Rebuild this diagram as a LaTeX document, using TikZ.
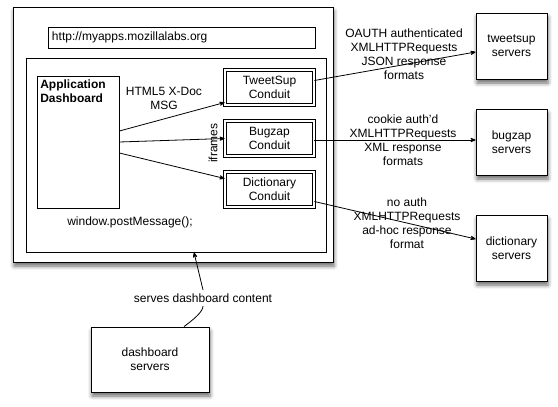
\documentclass[tikz,border=0pt]{standalone}
\usepackage{fontspec}
\setmainfont{Liberation Sans}
\usetikzlibrary{arrows,shadows.blur}

\begin{document}
\begin{tikzpicture}[->,>=stealth',x=1pt,y=-1pt,line width=0.8pt,
                    font=\fontsize{12}{14}\selectfont]

  \tikzstyle{every node}=[align=center]
  \tikzstyle{plain}=[rectangle,draw]
  \tikzstyle{frame}=[rectangle,draw,fill=white,
                     blur shadow={shadow xshift=1pt,shadow yshift=-4pt,shadow blur radius=4pt,shadow opacity=60}]
  \tikzstyle{conduit}=[rectangle,draw,double,double distance=2pt,
                       minimum width=89pt,minimum height=35pt]
  \tikzstyle{server}=[frame,minimum width=71pt,minimum height=66pt]

  \useasboundingbox (0,0) rectangle (558,407);

  \node[frame,minimum width=320pt,minimum height=255pt] (page) at (173,134.5) {};
  \node[plain,minimum width=267pt,minimum height=21pt,text width=259pt,align=left] (url) at (181.5,37.5) {http://myapps.mozillalabs.org};
  \node[plain,minimum width=300pt,minimum height=194pt] (iframe) at (176,155) {};
  \node[plain,minimum width=82pt,minimum height=132pt] (dash) at (78,142) {};
  \node[anchor=north west,align=left,font=\fontsize{12}{14}\selectfont\bfseries] (dashtext) at (dash.north west) {Application\\Dashboard};

  \node[conduit] (tc) at (269.5,87.5)  {TweetSup\\Conduit};
  \node[conduit] (bc) at (269.5,138.5) {Bugzap\\Conduit};
  \node[conduit] (dc) at (269.5,189.5) {Dictionary\\Conduit};

  \node[server] (ts) at (511.5,46)  {tweetsup\\servers};
  \node[server] (bs) at (511.5,142) {bugzap\\servers};
  \node[server] (ds) at (511.5,248) {dictionary\\servers};
  \node[server,minimum width=118pt,minimum height=65pt] (dbs) at (150,359.5) {dashboard\\servers};

  \node (msg)    at (164,98)    {HTML5 X-Doc\\MSG};
  \node[rotate=90] (ifr) at (213,143) {iframes};
  \node (post)   at (130,222)   {window.postMessage();};
  \node (oauth)  at (404,54.5)  {OAUTH authenticated\\XMLHTTPRequests\\JSON response\\formats};
  \node (cookie) at (403,140.5) {cookie auth'd\\XMLHTTPRequests\\XML response\\formats};
  \node (noauth) at (407,223.5) {no auth\\XMLHTTPRequests\\ad-hoc response\\format};
  \node (serves) at (203,298)   {serves dashboard content};

  \draw ([yshift=11pt]dash.east)  -- ([yshift=-15pt]tc.west);
  \draw (dash.east)               -- (bc.west);
  \draw ([yshift=-11pt]dash.east) -- ([yshift=11pt]dc.west);

  \draw ([yshift=7pt]tc.east)    -- ([yshift=-6pt]ts.west);
  \draw ([yshift=-1.5pt]bc.east) -- ([yshift=2pt]bs.west);
  \draw ([yshift=-12pt]dc.east)  -- ([yshift=9pt]ds.west);

  \draw[-] ([xshift=34pt]dbs.north) .. controls +(8,-6) and +(0,6) .. (serves.south);
  \draw (serves.north) -- ([xshift=18pt]iframe.south);
\end{tikzpicture}
\end{document}
